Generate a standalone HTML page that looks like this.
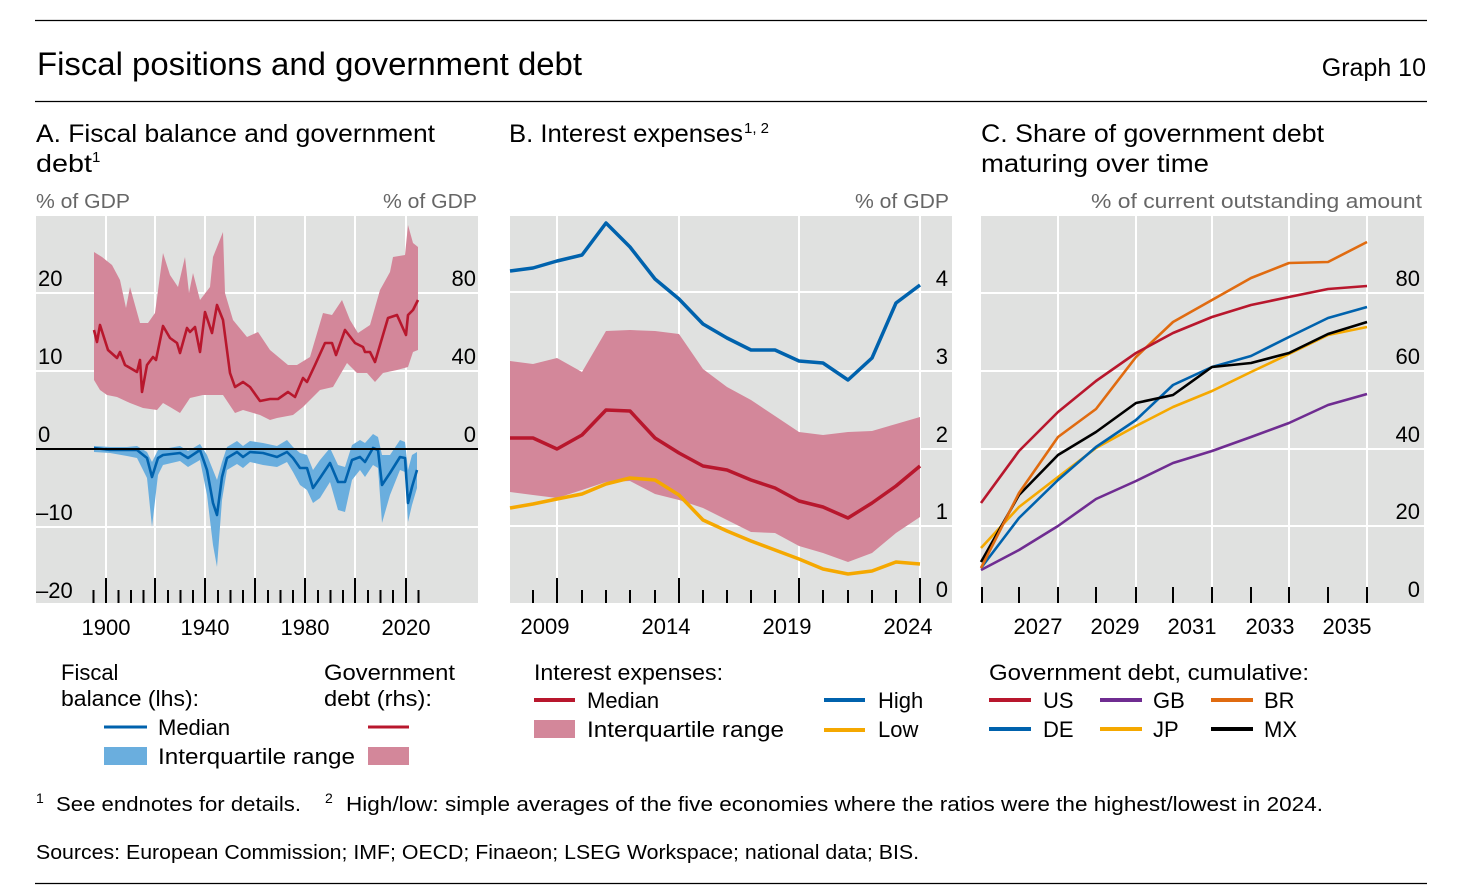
<!DOCTYPE html>
<html><head><meta charset="utf-8"><style>
html,body{margin:0;padding:0;background:#fff;}
svg{display:block;font-family:"Liberation Sans",sans-serif;}
</style></head><body>
<svg width="1482" height="896" viewBox="0 0 1482 896" xmlns="http://www.w3.org/2000/svg">
<rect width="1482" height="896" fill="#fff"/>
<line x1="35" y1="20.5" x2="1427" y2="20.5" stroke="#000" stroke-width="1.2"/>
<line x1="35" y1="101.5" x2="1427" y2="101.5" stroke="#000" stroke-width="1.2"/>
<line x1="35" y1="883.5" x2="1427" y2="883.5" stroke="#000" stroke-width="1.2"/>
<text x="37" y="75" font-size="32" textLength="545" lengthAdjust="spacingAndGlyphs">Fiscal positions and government debt</text>
<text x="1426" y="76" font-size="25" text-anchor="end">Graph 10</text>

<g font-size="25">
<text x="36" y="142" textLength="399" lengthAdjust="spacingAndGlyphs">A. Fiscal balance and government</text>
<text x="36" y="172" textLength="56" lengthAdjust="spacingAndGlyphs">debt</text><text x="92" y="162" font-size="15">1</text>
<text x="509" y="142" textLength="234" lengthAdjust="spacingAndGlyphs">B. Interest expenses</text><text x="744" y="133" font-size="15">1, 2</text>
<text x="981" y="142" textLength="343" lengthAdjust="spacingAndGlyphs">C. Share of government debt</text>
<text x="981" y="172" textLength="228" lengthAdjust="spacingAndGlyphs">maturing over time</text>
</g>
<g font-size="20" fill="#666">
<text x="36" y="208" textLength="94" lengthAdjust="spacingAndGlyphs">% of GDP</text>
<text x="477" y="208" text-anchor="end" textLength="94" lengthAdjust="spacingAndGlyphs">% of GDP</text>
<text x="949" y="208" text-anchor="end" textLength="94" lengthAdjust="spacingAndGlyphs">% of GDP</text>
<text x="1422" y="208" text-anchor="end" textLength="331" lengthAdjust="spacingAndGlyphs">% of current outstanding amount</text>
</g>

<!-- Panel A -->
<rect x="36" y="216" width="442" height="387" fill="#e0e1e0"/>
<g stroke="#fff" stroke-width="2">
<line x1="36" y1="293" x2="478" y2="293"/><line x1="36" y1="371" x2="478" y2="371"/><line x1="36" y1="527" x2="478" y2="527"/>
<line x1="106" y1="216" x2="106" y2="603"/><line x1="155" y1="216" x2="155" y2="603"/><line x1="205" y1="216" x2="205" y2="603"/><line x1="255" y1="216" x2="255" y2="603"/><line x1="305" y1="216" x2="305" y2="603"/><line x1="355" y1="216" x2="355" y2="603"/><line x1="406" y1="216" x2="406" y2="603"/>
</g>
<path fill="#d3879a" d="M94,252 L102,257 L112,265 L120,280 L126,308 L130,287 L140,323 L148,323 L155,313 L163,253 L170,275 L178,287 L185,257 L189,293 L193,273 L200,300 L210,287 L213,257 L223,232 L225,293 L233,320 L247,337 L258,332 L270,350 L288,365 L297,365 L310,357 L323,313 L332,315 L342,300 L350,320 L358,333 L370,325 L380,290 L390,272 L393,257 L405,255 L408,225 L413,243 L418,247 L418,350 L413,352 L408,367 L397,370 L383,373 L375,382 L367,373 L357,373 L347,363 L333,387 L320,390 L303,407 L293,415 L277,418 L270,420 L260,415 L243,410 L235,413 L223,395 L213,395 L203,395 L190,398 L180,413 L170,407 L163,403 L157,410 L143,408 L130,403 L117,397 L107,395 L100,390 L94,380 Z"/>
<path fill="none" stroke="#b8172d" stroke-width="2.6" stroke-linejoin="round" d="M94,330 L97,342 L100,325 L108,350 L117,358 L120,352 L125,365 L137,372 L140,360 L142,392 L147,365 L153,357 L156,360 L163,326 L170,338 L177,343 L180,353 L187,328 L190,332 L195,327 L200,352 L205,312 L212,333 L217,305 L223,320 L230,373 L235,387 L243,382 L250,387 L260,401 L270,399 L278,399 L288,392 L295,397 L303,378 L307,382 L315,365 L325,343 L332,343 L336,355 L345,330 L355,343 L363,347 L365,352 L370,352 L375,362 L388,318 L397,315 L406,335 L408,315 L413,310 L418,300"/>
<path fill="#6aaede" d="M94,446 L110,447 L127,447 L137,446 L147,452 L152,462 L158,450 L163,449 L180,446 L188,451 L200,444 L207,455 L213,470 L217,480 L222,462 L227,447 L237,441 L243,446 L250,441 L263,443 L277,446 L287,440 L293,447 L300,453 L307,455 L313,470 L320,460 L330,448 L338,465 L345,467 L352,445 L360,440 L365,443 L373,434 L378,437 L382,455 L390,455 L400,440 L405,442 L408,470 L412,455 L417,452 L417,488 L412,505 L408,522 L405,472 L400,470 L390,495 L382,523 L378,468 L373,465 L365,477 L360,470 L352,480 L345,512 L338,510 L330,482 L320,498 L313,503 L307,490 L300,485 L293,472 L287,462 L277,467 L263,465 L250,462 L243,468 L237,464 L227,470 L222,500 L217,567 L213,545 L207,495 L200,460 L188,467 L180,461 L163,465 L158,475 L152,527 L147,478 L137,458 L127,456 L110,453 L94,452 Z"/>
<path fill="none" stroke="#0062ad" stroke-width="2.6" stroke-linejoin="round" d="M94,448 L110,450 L127,450 L137,450 L147,458 L152,477 L158,458 L163,455 L180,453 L188,458 L200,450 L207,470 L213,503 L217,515 L222,477 L227,458 L237,452 L243,457 L250,452 L263,453 L277,457 L287,452 L293,458 L300,468 L307,468 L313,488 L320,478 L330,463 L338,482 L345,482 L352,460 L360,457 L365,462 L373,448 L378,450 L382,485 L390,473 L400,457 L405,458 L408,503 L412,487 L417,470"/>
<line x1="36" y1="449" x2="478" y2="449" stroke="#000" stroke-width="2"/>
<g stroke="#000" stroke-width="2">
<line x1="93.5" y1="590" x2="93.5" y2="603"/><line x1="106" y1="578" x2="106" y2="603"/><line x1="118.5" y1="590" x2="118.5" y2="603"/><line x1="131" y1="590" x2="131" y2="603"/><line x1="143.5" y1="590" x2="143.5" y2="603"/><line x1="155" y1="578" x2="155" y2="603"/><line x1="168" y1="590" x2="168" y2="603"/><line x1="180.5" y1="590" x2="180.5" y2="603"/><line x1="193" y1="590" x2="193" y2="603"/><line x1="205" y1="578" x2="205" y2="603"/><line x1="218" y1="590" x2="218" y2="603"/><line x1="230.5" y1="590" x2="230.5" y2="603"/><line x1="243" y1="590" x2="243" y2="603"/><line x1="255" y1="578" x2="255" y2="603"/><line x1="268" y1="590" x2="268" y2="603"/><line x1="280.5" y1="590" x2="280.5" y2="603"/><line x1="293" y1="590" x2="293" y2="603"/><line x1="305" y1="578" x2="305" y2="603"/><line x1="318" y1="590" x2="318" y2="603"/><line x1="330.5" y1="590" x2="330.5" y2="603"/><line x1="343" y1="590" x2="343" y2="603"/><line x1="355" y1="578" x2="355" y2="603"/><line x1="368" y1="590" x2="368" y2="603"/><line x1="380.5" y1="590" x2="380.5" y2="603"/><line x1="393" y1="590" x2="393" y2="603"/><line x1="406" y1="578" x2="406" y2="603"/><line x1="418.5" y1="590" x2="418.5" y2="603"/>
</g>
<g font-size="22">
<text x="38" y="286">20</text><text x="38" y="364">10</text><text x="38" y="442">0</text><text x="36" y="520">–10</text><text x="36" y="598">–20</text>
<text x="476" y="286" text-anchor="end">80</text><text x="476" y="364" text-anchor="end">40</text><text x="476" y="442" text-anchor="end">0</text>
<g text-anchor="middle"><text x="106" y="635">1900</text><text x="205" y="635">1940</text><text x="305" y="635">1980</text><text x="406" y="635">2020</text></g>
</g>

<!-- Panel B -->
<rect x="510" y="216" width="442" height="387" fill="#e0e1e0"/>
<g stroke="#fff" stroke-width="2">
<line x1="510" y1="292" x2="952" y2="292"/><line x1="510" y1="371" x2="952" y2="371"/><line x1="510" y1="449" x2="952" y2="449"/><line x1="510" y1="526" x2="952" y2="526"/>
<line x1="557" y1="216" x2="557" y2="603"/><line x1="679" y1="216" x2="679" y2="603"/><line x1="799" y1="216" x2="799" y2="603"/><line x1="920" y1="216" x2="920" y2="603"/>
</g>
<path fill="#d3879a" d="M510,361 L533,364 L557,358 L582,372 L606,331 L630,330 L655,331 L679,334 L703,369 L727,387 L751,400 L775,416 L799,432 L823,435 L848,432 L872,431 L896,424 L920,417 L920,517 L896,533 L872,553 L848,562 L823,553 L799,546 L775,533 L751,532 L727,520 L703,508 L679,500 L655,494 L630,481 L606,482 L582,490 L557,498 L533,495 L510,492 Z"/>
<path fill="none" stroke="#0062ad" stroke-width="3.5" stroke-linejoin="round" d="M510,271 L533,268 L557,261 L582,255 L606,223 L630,247 L655,279 L679,299 L703,324 L727,338 L751,350 L775,350 L799,361 L823,363 L848,380 L872,358 L896,303 L920,285"/>
<path fill="none" stroke="#b8172d" stroke-width="3.5" stroke-linejoin="round" d="M510,438 L533,438 L557,449 L582,435 L606,410 L630,411 L655,438 L679,453 L703,466 L727,470 L751,480 L775,488 L799,501 L823,507 L848,518 L872,503 L896,486 L920,466"/>
<path fill="none" stroke="#f5a800" stroke-width="3.5" stroke-linejoin="round" d="M510,508 L533,504 L557,499 L582,494 L606,484 L630,478 L655,480 L679,495 L703,520 L727,531 L751,541 L775,550 L799,559 L823,569 L848,574 L872,571 L896,562 L920,564"/>
<g stroke="#000" stroke-width="2">
<line x1="533" y1="590" x2="533" y2="603"/><line x1="557" y1="578" x2="557" y2="603"/><line x1="582" y1="590" x2="582" y2="603"/><line x1="606" y1="590" x2="606" y2="603"/><line x1="630" y1="590" x2="630" y2="603"/><line x1="655" y1="590" x2="655" y2="603"/><line x1="679" y1="578" x2="679" y2="603"/><line x1="703" y1="590" x2="703" y2="603"/><line x1="727" y1="590" x2="727" y2="603"/><line x1="751" y1="590" x2="751" y2="603"/><line x1="775" y1="590" x2="775" y2="603"/><line x1="799" y1="578" x2="799" y2="603"/><line x1="823" y1="590" x2="823" y2="603"/><line x1="848" y1="590" x2="848" y2="603"/><line x1="872" y1="590" x2="872" y2="603"/><line x1="896" y1="590" x2="896" y2="603"/><line x1="920" y1="578" x2="920" y2="603"/>
</g>
<g font-size="22">
<text x="948" y="286" text-anchor="end">4</text><text x="948" y="364" text-anchor="end">3</text><text x="948" y="442" text-anchor="end">2</text><text x="948" y="519" text-anchor="end">1</text><text x="948" y="597" text-anchor="end">0</text>
<g text-anchor="middle"><text x="545" y="634">2009</text><text x="666" y="634">2014</text><text x="787" y="634">2019</text><text x="908" y="634">2024</text></g>
</g>

<!-- Panel C -->
<rect x="981" y="216" width="443" height="387" fill="#e0e1e0"/>
<g stroke="#fff" stroke-width="2">
<line x1="981" y1="293" x2="1424" y2="293"/><line x1="981" y1="371" x2="1424" y2="371"/><line x1="981" y1="449" x2="1424" y2="449"/><line x1="981" y1="526" x2="1424" y2="526"/>
<line x1="1058" y1="216" x2="1058" y2="603"/><line x1="1136" y1="216" x2="1136" y2="603"/><line x1="1212" y1="216" x2="1212" y2="603"/><line x1="1289" y1="216" x2="1289" y2="603"/><line x1="1367" y1="216" x2="1367" y2="603"/>
</g>
<g fill="none" stroke-width="2.6" stroke-linejoin="round">
<path stroke="#6f2c91" d="M981,570 L1019,550 L1058,526 L1096,499 L1136,481 L1173,463 L1212,451 L1251,437 L1289,423 L1328,405 L1367,394"/>
<path stroke="#f5a800" d="M981,548 L1019,507 L1058,477 L1096,448 L1136,426 L1173,407 L1212,391 L1251,372 L1289,354 L1328,335 L1367,327"/>
<path stroke="#0062ad" d="M981,568 L1019,518 L1058,480 L1096,447 L1136,420 L1173,385 L1212,367 L1251,356 L1289,337 L1328,318 L1367,307"/>
<path stroke="#000" d="M981,562 L1019,495 L1058,455 L1096,432 L1136,403 L1173,395 L1212,367 L1251,363 L1289,353 L1328,334 L1367,322"/>
<path stroke="#e06b10" d="M981,568 L1019,493 L1058,437 L1096,409 L1136,357 L1173,322 L1212,300 L1251,278 L1289,263 L1328,262 L1367,242"/>
<path stroke="#b8172d" d="M981,503 L1019,451 L1058,412 L1096,381 L1136,353 L1173,333 L1212,317 L1251,305 L1289,297 L1328,289 L1367,286"/>
</g>
<g stroke="#000" stroke-width="2">
<line x1="982" y1="587" x2="982" y2="603"/><line x1="1019" y1="587" x2="1019" y2="603"/><line x1="1058" y1="587" x2="1058" y2="603"/><line x1="1096" y1="587" x2="1096" y2="603"/><line x1="1136" y1="587" x2="1136" y2="603"/><line x1="1173" y1="587" x2="1173" y2="603"/><line x1="1212" y1="587" x2="1212" y2="603"/><line x1="1251" y1="587" x2="1251" y2="603"/><line x1="1289" y1="587" x2="1289" y2="603"/><line x1="1328" y1="587" x2="1328" y2="603"/><line x1="1367" y1="587" x2="1367" y2="603"/>
</g>
<g font-size="22">
<text x="1420" y="286" text-anchor="end">80</text><text x="1420" y="364" text-anchor="end">60</text><text x="1420" y="442" text-anchor="end">40</text><text x="1420" y="519" text-anchor="end">20</text><text x="1420" y="597" text-anchor="end">0</text>
<g text-anchor="middle"><text x="1038" y="634">2027</text><text x="1115" y="634">2029</text><text x="1192" y="634">2031</text><text x="1270" y="634">2033</text><text x="1347" y="634">2035</text></g>
</g>

<!-- Legends -->
<g font-size="22">
<text x="61" y="680">Fiscal</text>
<text x="61" y="706" textLength="138" lengthAdjust="spacingAndGlyphs">balance (lhs):</text>
<line x1="104" y1="727" x2="147" y2="727" stroke="#0062ad" stroke-width="3"/>
<text x="158" y="735">Median</text>
<rect x="104" y="747" width="43" height="18" fill="#6aaede"/>
<text x="158" y="764" textLength="197" lengthAdjust="spacingAndGlyphs">Interquartile range</text>
<text x="324" y="680" textLength="131" lengthAdjust="spacingAndGlyphs">Government</text>
<text x="324" y="706" textLength="108" lengthAdjust="spacingAndGlyphs">debt (rhs):</text>
<line x1="368" y1="727" x2="409" y2="727" stroke="#b8172d" stroke-width="3"/>
<rect x="368" y="747" width="41" height="18" fill="#d3879a"/>

<text x="534" y="680" textLength="189" lengthAdjust="spacingAndGlyphs">Interest expenses:</text>
<line x1="534" y1="700" x2="575" y2="700" stroke="#b8172d" stroke-width="4"/>
<text x="587" y="708">Median</text>
<rect x="534" y="720" width="41" height="18" fill="#d3879a"/>
<text x="587" y="737" textLength="197" lengthAdjust="spacingAndGlyphs">Interquartile range</text>
<line x1="824" y1="700" x2="865" y2="700" stroke="#0062ad" stroke-width="4"/>
<text x="878" y="708">High</text>
<line x1="824" y1="730" x2="865" y2="730" stroke="#f5a800" stroke-width="4"/>
<text x="878" y="737">Low</text>

<text x="989" y="680" textLength="320" lengthAdjust="spacingAndGlyphs">Government debt, cumulative:</text>
<line x1="989" y1="700" x2="1031" y2="700" stroke="#b8172d" stroke-width="4"/><text x="1043" y="708">US</text>
<line x1="1100" y1="700" x2="1142" y2="700" stroke="#6f2c91" stroke-width="4"/><text x="1153" y="708">GB</text>
<line x1="1211" y1="700" x2="1253" y2="700" stroke="#e06b10" stroke-width="4"/><text x="1264" y="708">BR</text>
<line x1="989" y1="729" x2="1031" y2="729" stroke="#0062ad" stroke-width="4"/><text x="1043" y="737">DE</text>
<line x1="1100" y1="729" x2="1142" y2="729" stroke="#f5a800" stroke-width="4"/><text x="1153" y="737">JP</text>
<line x1="1211" y1="729" x2="1253" y2="729" stroke="#000" stroke-width="4"/><text x="1264" y="737">MX</text>
</g>

<g font-size="20">
<text x="36" y="803" font-size="14">1</text>
<text x="56" y="811" textLength="245" lengthAdjust="spacingAndGlyphs">See endnotes for details.</text>
<text x="325" y="803" font-size="14">2</text>
<text x="346" y="811" textLength="977" lengthAdjust="spacingAndGlyphs">High/low: simple averages of the five economies where the ratios were the highest/lowest in 2024.</text>
<text x="36" y="859" textLength="883" lengthAdjust="spacingAndGlyphs">Sources: European Commission; IMF; OECD; Finaeon; LSEG Workspace; national data; BIS.</text>
</g>
</svg>
</body></html>
